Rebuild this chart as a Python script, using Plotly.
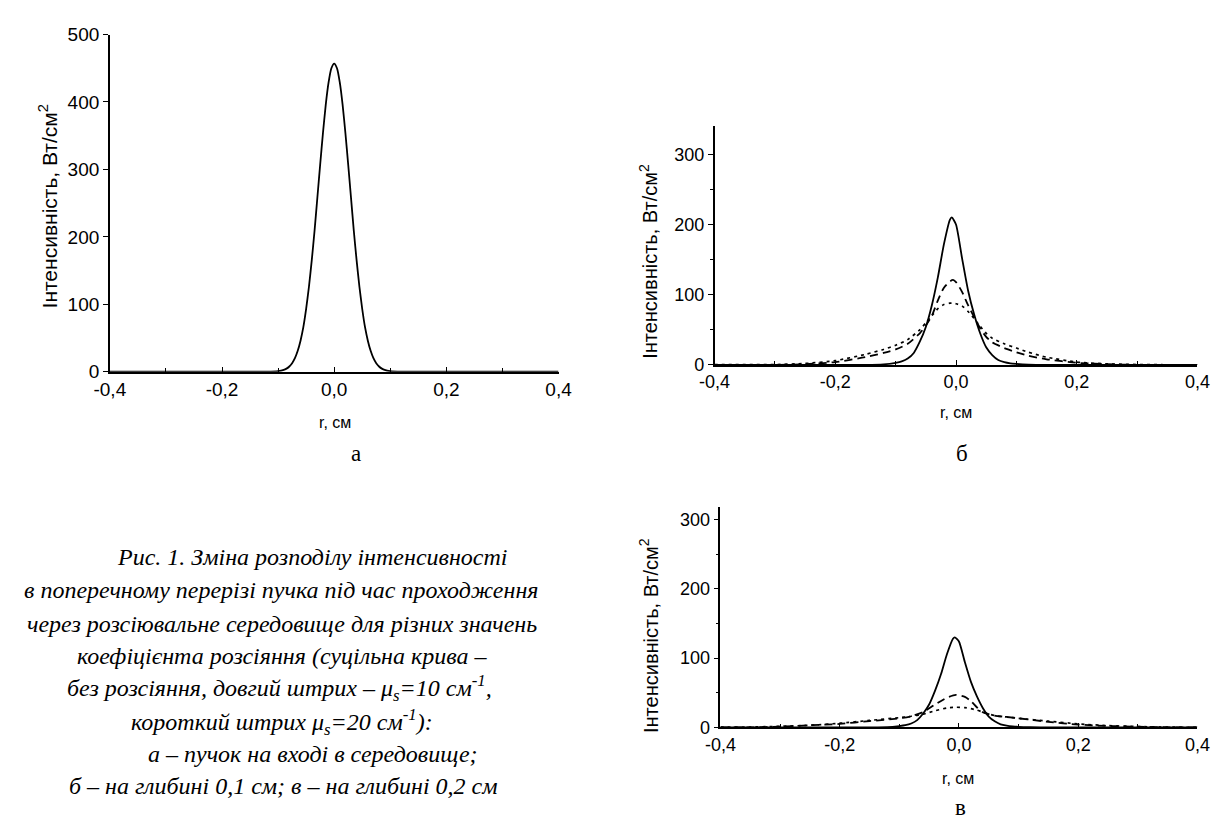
import plotly.graph_objects as go

W, H = 1220, 820

# ---------------- data ----------------
# panel a: beam at the entrance
r_a = [-0.40, -0.12, -0.10, -0.09, -0.085, -0.08, -0.075, -0.07, -0.065, -0.06, -0.055,
       -0.05, -0.045, -0.04, -0.035, -0.03, -0.025, -0.02, -0.015, -0.01, -0.005, 0.0,
       0.005, 0.01, 0.015, 0.02, 0.025, 0.03, 0.035, 0.04, 0.045, 0.05, 0.055, 0.06,
       0.065, 0.07, 0.075, 0.08, 0.085, 0.09, 0.10, 0.12, 0.40]
I_a = [0, 0, 0.8, 2.6, 4.6, 7.7, 12.6, 20, 31, 46, 66, 93, 126, 165, 209, 258, 307, 354,
       396, 429, 450, 457, 450, 429, 396, 354, 307, 258, 209, 165, 126, 93, 66, 46, 31,
       20, 12.6, 7.7, 4.6, 2.6, 0.8, 0, 0]

# panel b: depth 0.1 cm
r_b = [-0.40, -0.15, -0.12, -0.10, -0.09, -0.08, -0.07, -0.06, -0.05, -0.04, -0.03, -0.02,
       -0.01, -0.007, 0.00, 0.01, 0.02, 0.03, 0.04, 0.05, 0.06, 0.07, 0.08, 0.09, 0.10,
       0.12, 0.15, 0.40]
I_b_solid = [0, 0, 0.8, 3, 5, 9, 17, 33, 54, 85, 125, 172, 207, 210, 200, 152, 106, 72, 45,
             25, 14, 7, 4, 2.3, 1.5, 0.5, 0, 0]
r_b_sc = [-0.40, -0.30, -0.25, -0.20, -0.15, -0.12, -0.10, -0.08, -0.06, -0.05, -0.04,
          -0.03, -0.02, -0.01, -0.005, 0.00, 0.01, 0.02, 0.03, 0.04, 0.05, 0.06, 0.08, 0.10,
          0.12, 0.15, 0.20, 0.25, 0.30, 0.40]
I_b_mu10 = [0, 0, 1, 4, 11, 17, 22, 30, 45, 56, 70, 92, 110, 119, 121, 118, 104, 85, 68, 52,
            40, 32, 24, 18, 13, 8, 3, 1, 0, 0]
I_b_mu20 = [0.5, 0.5, 2, 6, 15, 22, 28, 36, 50, 60, 70, 80, 86, 88, 88, 87, 84, 76, 66, 55,
            45, 38, 30, 24, 18, 11, 4, 1.5, 0.5, 0]

# panel c: depth 0.2 cm
r_c = [-0.40, -0.15, -0.12, -0.10, -0.09, -0.08, -0.07, -0.06, -0.05, -0.04, -0.03, -0.02,
       -0.01, -0.007, 0.00, 0.01, 0.02, 0.03, 0.04, 0.05, 0.06, 0.07, 0.08, 0.09, 0.10,
       0.12, 0.15, 0.40]
I_c_solid = [0, 0, 0.3, 1.9, 3.1, 5.6, 10.5, 20, 33, 53, 77, 106, 128, 130, 124, 94, 66, 45,
             28, 15.5, 8.7, 4.3, 2.5, 1.4, 0.8, 0.3, 0, 0]
r_c_sc = [-0.40, -0.35, -0.30, -0.25, -0.20, -0.15, -0.10, -0.08, -0.06, -0.04, -0.02,
          -0.005, 0.01, 0.02, 0.03, 0.04, 0.06, 0.08, 0.10, 0.15, 0.20, 0.25, 0.30, 0.35, 0.40]
I_c_mu10 = [0, 0, 1, 3, 5, 9, 13, 16, 22, 33, 43, 47, 44, 38, 29, 22, 17, 15, 13, 8, 4, 2, 1,
            0, 0]
I_c_mu20 = [0.2, 0.5, 1.5, 3, 6, 10, 14, 16, 19, 24, 28, 29, 28.5, 27, 25, 22, 17, 15, 13, 9,
            5, 2.5, 1.2, 0.4, 0]

x_tickvals = [-0.4, -0.2, 0.0, 0.2, 0.4]
x_ticktext = ["-0,4", "-0,2", "0,0", "0,2", "0,4"]
x_minor = [-0.3, -0.1, 0.1, 0.3]
y_ticks_a = [0, 100, 200, 300, 400, 500]
y_ticks_bc = [0, 100, 200, 300]
y_minor_bc = [50, 150, 250]

y_title = "Інтенсивність, Вт/см<sup>2</sup>"
x_title = "r, см"
caption = [
    "Рис. 1. Зміна розподілу інтенсивності",
    "в поперечному перерізі пучка під час проходження",
    "через розсіювальне середовище для різних значень",
    "коефіцієнта розсіяння (суцільна крива –",
    "без розсіяння, довгий штрих – μ<sub>s</sub>=10 см<sup>-1</sup>,",
    "короткий штрих μ<sub>s</sub>=20 см<sup>-1</sup>):",
    "а – пучок на вході в середовище;",
    "б – на глибині 0,1 см; в – на глибині 0,2 см",
]

# ---------------- figure ----------------
SANS = "Arial, Liberation Sans, sans-serif"
SERIF = "Times New Roman, Liberation Serif, serif"

def px_x(p):
    return p / W

def px_y(p):
    return 1 - p / H

fig = go.Figure()

line_solid = dict(color="black", width=1.8, shape="spline", smoothing=0.6)
line_long = dict(color="black", width=1.8, dash="8px,5px", shape="spline", smoothing=0.6)
line_short = dict(color="black", width=1.7, dash="3px,4px", shape="spline", smoothing=0.6)

fig.add_trace(go.Scatter(x=r_a, y=I_a, mode="lines", line=line_solid, xaxis="x", yaxis="y"))

fig.add_trace(go.Scatter(x=r_b_sc, y=I_b_mu20, mode="lines", line=line_short, xaxis="x2", yaxis="y2"))
fig.add_trace(go.Scatter(x=r_b_sc, y=I_b_mu10, mode="lines", line=line_long, xaxis="x2", yaxis="y2"))
fig.add_trace(go.Scatter(x=r_b, y=I_b_solid, mode="lines", line=line_solid, xaxis="x2", yaxis="y2"))

fig.add_trace(go.Scatter(x=r_c_sc, y=I_c_mu20, mode="lines", line=line_short, xaxis="x3", yaxis="y3"))
fig.add_trace(go.Scatter(x=r_c_sc, y=I_c_mu10, mode="lines", line=line_long, xaxis="x3", yaxis="y3"))
fig.add_trace(go.Scatter(x=r_c, y=I_c_solid, mode="lines", line=line_solid, xaxis="x3", yaxis="y3"))


def xaxis_cfg(domain, anchor, fs):
    return dict(domain=domain, anchor=anchor, range=[-0.4, 0.4], showline=True,
                linecolor="black", linewidth=1.5, showgrid=False, zeroline=False,
                tickmode="array", tickvals=x_tickvals, ticktext=x_ticktext,
                ticks="inside", ticklen=5, tickwidth=1, tickcolor="black",
                minor=dict(tickmode="array", tickvals=x_minor, ticks="inside", ticklen=4,
                           tickcolor="black", showgrid=False),
                tickfont=dict(family=SANS, size=fs, color="black"), fixedrange=True)


def yaxis_cfg(domain, anchor, rng, tv, minor, fs):
    d = dict(domain=domain, anchor=anchor, range=rng, showline=True, linecolor="black",
             linewidth=1.5, showgrid=False, zeroline=False, tickmode="array", tickvals=tv,
             ticktext=[str(v) for v in tv], ticks="outside", ticklen=5, tickwidth=1,
             tickcolor="black", tickfont=dict(family=SANS, size=fs, color="black"),
             fixedrange=True)
    if minor:
        d["minor"] = dict(tickmode="array", tickvals=minor, ticks="outside", ticklen=3,
                          tickcolor="black", showgrid=False)
    return d


fig.update_layout(
    width=W, height=H, margin=dict(l=0, r=0, t=0, b=0),
    paper_bgcolor="white", plot_bgcolor="white", showlegend=False,
    xaxis=xaxis_cfg([px_x(88), px_x(548)], "y", 19),
    yaxis=yaxis_cfg([px_y(363), px_y(17)], "x", [0, 500], y_ticks_a, None, 19),
    xaxis2=xaxis_cfg([px_x(708), px_x(1203)], "y2", 18),
    yaxis2=yaxis_cfg([px_y(356), px_y(111)], "x2", [0, 340], y_ticks_bc, y_minor_bc, 18),
    xaxis3=xaxis_cfg([px_x(714), px_x(1203)], "y3", 18),
    yaxis3=yaxis_cfg([px_y(728), px_y(502)], "x3", [0, 318], y_ticks_bc, y_minor_bc, 18),
)

ann = []
# axis titles
for (x, y, fs) in [(25, 193, 21), (640, 250, 20), (641, 634, 20)]:
    ann.append(dict(x=px_x(x), y=px_y(y), xref="paper", yref="paper", text=y_title,
                    textangle=-90, showarrow=False, xanchor="center", yanchor="middle",
                    font=dict(family=SANS, size=fs, color="black")))
for (x, y) in [(319, 415), (956, 405), (958, 780)]:
    ann.append(dict(x=px_x(x), y=px_y(y), xref="paper", yref="paper", text=x_title,
                    showarrow=False, xanchor="center", yanchor="middle",
                    font=dict(family=SANS, size=16, color="black")))
# panel letters
for (txt, x, y) in [("а", 340, 447), ("б", 962, 447), ("в", 960, 810)]:
    ann.append(dict(x=px_x(x), y=px_y(y), xref="paper", yref="paper", text=txt,
                    showarrow=False, xanchor="center", yanchor="middle",
                    font=dict(family=SERIF, size=23, color="black")))
# caption
cap_x = [296, 264, 264, 264, 262, 264, 296, 266]
cap_y = [553, 587, 622, 655, 688, 722, 755, 788]
for txt, x, y in zip(caption, cap_x, cap_y):
    ann.append(dict(x=px_x(x), y=px_y(y), xref="paper", yref="paper",
                    text="<i>" + txt + "</i>", showarrow=False, xanchor="center",
                    yanchor="middle", font=dict(family=SERIF, size=24, color="black")))

fig.update_layout(annotations=ann)
fig.write_html("out.html")
